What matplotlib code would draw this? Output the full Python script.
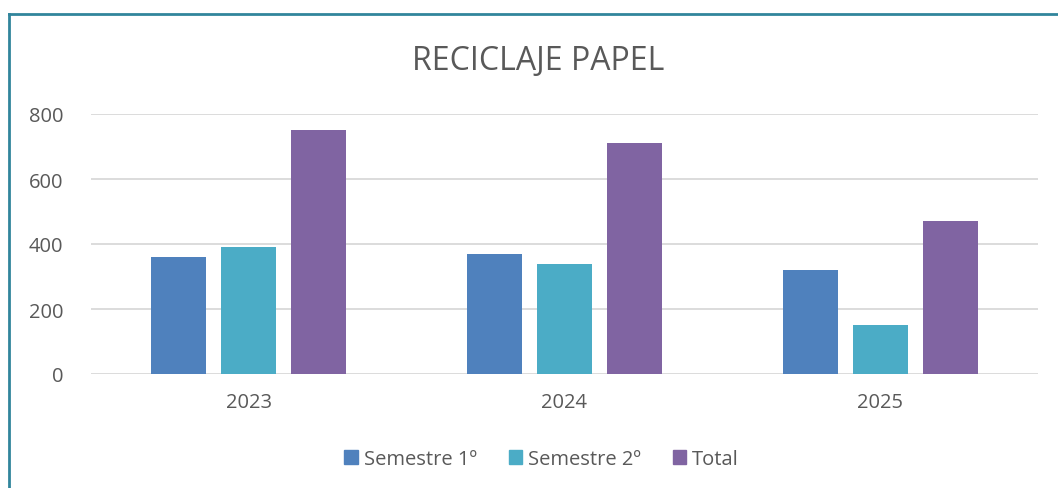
import numpy as np
import matplotlib.pyplot as plt
from matplotlib.lines import Line2D

years = ['2023', '2024', '2025']
sem1 = [360, 370, 320]
sem2 = [390, 340, 150]
total = [750, 710, 470]
series = ['Semestre 1º', 'Semestre 2º', 'Total']
colors = ['#4F81BD', '#4BACC6', '#8064A2']

plt.rcParams['font.family'] = ['Open Sans', 'DejaVu Sans']

fig = plt.figure(figsize=(10.58, 4.89), dpi=100)
ax = fig.add_axes([91 / 1058, 1 - 375 / 489, 947 / 1058, 260 / 489])

x = np.arange(len(years))
w = 0.174
step = 0.2215
for i, (vals, name, c) in enumerate(zip([sem1, sem2, total], series, colors)):
    ax.bar(x + (i - 1) * step, vals, width=w, color=c, label=name, zorder=3)

ax.set_xlim(-0.5, 2.5)
ax.set_ylim(0, 800)
ax.set_yticks(range(0, 801, 200))
ax.set_xticks(x)
ax.set_xticklabels(years)
ax.grid(axis='y', color='#D9D9D9', linewidth=1.3, zorder=0)
for s in ax.spines.values():
    s.set_visible(False)
ax.tick_params(axis='both', length=0, labelsize=14.5, colors='#595959')
ax.tick_params(axis='x', pad=13)
ax.tick_params(axis='y', pad=20)

fig.text(0.509, 1 - 62 / 489, 'RECICLAJE PAPEL', ha='center', va='center',
         fontsize=23, color='#595959')

handles = [plt.Rectangle((0, 0), 1, 1, color=c) for c in colors]
fig.legend(handles, series, loc='center', bbox_to_anchor=(0.512, 1 - 460 / 489),
           ncol=3, frameon=False, fontsize=14.5, handlelength=0.65, handleheight=0.65,
           handletextpad=0.3, columnspacing=1.6, labelcolor='#595959')

# chart frame (left and top edges visible)
fig.add_artist(Line2D([9 / 1058, 9 / 1058], [0, 1 - 15 / 489], transform=fig.transFigure,
                      color='#31859C', linewidth=2))
fig.add_artist(Line2D([9 / 1058, 1], [1 - 15 / 489, 1 - 15 / 489], transform=fig.transFigure,
                      color='#31859C', linewidth=2))

fig.savefig('out.png', dpi=100)
